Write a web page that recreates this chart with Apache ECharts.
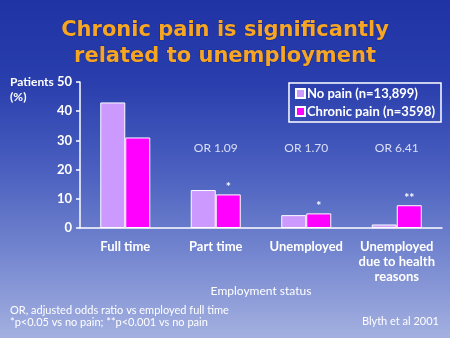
<!DOCTYPE html>
<html><head><meta charset="utf-8">
<script src="https://cdn.jsdelivr.net/npm/echarts@6/dist/echarts.min.js"></script>
<style>
html,body{margin:0;padding:0;}
body{width:450px;height:338px;background:linear-gradient(to bottom,#1f33a5 0%,#2a3fad 25%,#4a5fbf 50%,#7486cf 75%,#a3b0e0 100%);}
#c{width:450px;height:338px;}
</style></head>
<body><div id="c"></div>
<script>
var categories = ['Full time', 'Part time', 'Unemployed', 'Unemployed\ndue to health\nreasons'];
var noPain = [43, 13, 4.4, 1.2];
var chronicPain = [31, 11.5, 5.0, 7.8];
var significance = ['', '*', '*', '**'];
var oddsRatios = ['', 'OR 1.09', 'OR 1.70', 'OR 6.41'];
var orLevel = [27.5, 27.5, 27.5, 27.5];
var yTicks = [0, 10, 20, 30, 40, 50];
var FONT = 'Lato';
var TFONT = 'DejaVu Sans';

var chart = echarts.init(document.getElementById('c'), null, {renderer:'canvas'});
chart.setOption({
  backgroundColor: 'transparent',
  animation: false,
  textStyle: {fontFamily: FONT},
  title: {
    text: 'Chronic pain is significantly\nrelated to unemployment',
    left: 'center', top: 13,
    textStyle: {color: '#f6a623', fontSize: 21, fontWeight: 'bold', fontFamily: TFONT, lineHeight: 26,
      textBorderColor:'#1a2a90', textBorderWidth:1}
  },
  legend: {
    orient: 'vertical', right: 9, top: 83,
    width: 150,
    borderColor: '#ffffff', borderWidth: 1.5, padding: [4, 6, 4, 6],
    itemWidth: 9, itemHeight: 9, itemGap: 5,
    icon: 'rect',
    textStyle: {color: '#ffffff', fontSize: 13, fontWeight: 'bold', fontFamily: FONT, padding:[0,0,0,-3]},
    data: ['No pain (n=13,899)', 'Chronic pain (n=3598)']
  },
  grid: {left: 80, right: 8, top: 82, bottom: 110},
  xAxis: {
    type: 'category', data: categories,
    name: 'Employment status', nameLocation: 'middle', nameGap: 55,
    nameTextStyle: {color: '#ffffff', fontSize: 12, fontFamily: FONT},
    axisLine: {lineStyle: {color: '#ffffff', width: 1.5}},
    axisTick: {show: false},
    axisLabel: {color: '#ffffff', fontSize: 13, fontWeight: 'bold', fontFamily: FONT, margin: 11, lineHeight: 15, interval: 0}
  },
  yAxis: {
    type: 'value', min: 0, max: 50, interval: 10,
    axisLine: {show: true, lineStyle: {color: '#ffffff', width: 1.5}},
    axisTick: {show: true, length: 4, lineStyle: {color: '#ffffff', width: 1.5}},
    splitLine: {show: false},
    axisLabel: {color: '#ffffff', fontSize: 13, fontWeight: 'bold', fontFamily: FONT, margin: 8,
      formatter: function(v){ return yTicks.indexOf(v) >= 0 ? String(v) : ''; }}
  },
  graphic: [
    {type: 'text', left: 10, top: 75, style: {text: 'Patients\n(%)', fill: '#ffffff', font: 'bold 12px ' + FONT, lineHeight: 15}},
    {type: 'text', left: 10, top: 304, style: {text: 'OR, adjusted odds ratio vs employed full time\n*p<0.05 vs no pain; **p<0.001 vs no pain', fill: '#ffffff', font: '11px ' + FONT, lineHeight: 12}},
    {type: 'text', right: 11, top: 316, style: {text: 'Blyth et al 2001', fill: '#ffffff', font: '11px ' + FONT}}
  ],
  series: [
    {
      name: 'No pain (n=13,899)', type: 'bar', data: noPain,
      barWidth: 25, barGap: '0%',
      itemStyle: {color: '#cc99ff', borderColor: '#ffffff', borderWidth: 1}
    },
    {
      name: 'Chronic pain (n=3598)', type: 'bar', data: chronicPain,
      barWidth: 25,
      itemStyle: {color: '#ff00ff', borderColor: '#ffffff', borderWidth: 1},
      label: {show: true, position: 'top', distance: 1, color: '#ffffff', fontSize: 12, fontWeight: 'bold',
        formatter: function(p){ return significance[p.dataIndex]; }}
    },
    {
      name: 'OR', type: 'scatter', data: orLevel, symbolSize: 0, silent: true,
      label: {show: true, position: 'inside', color: '#ffffff', fontSize: 12, fontFamily: FONT,
        formatter: function(p){ return oddsRatios[p.dataIndex]; }}
    }
  ]
});
</script></body></html>
